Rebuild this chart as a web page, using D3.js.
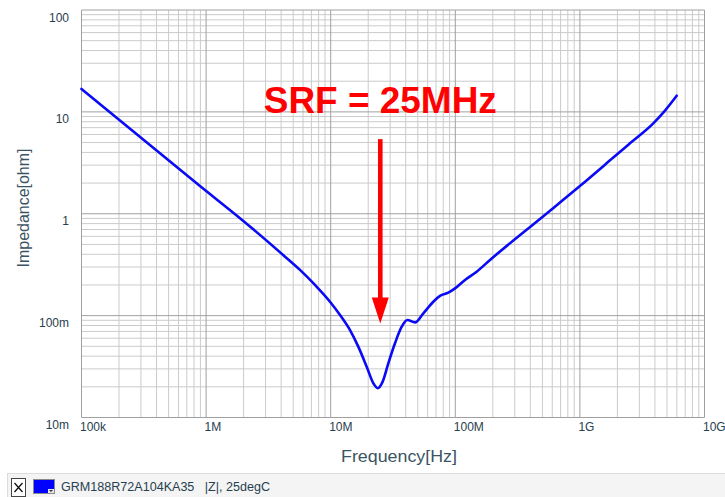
<!DOCTYPE html>
<html>
<head>
<meta charset="utf-8">
<title>Impedance</title>
<script src="https://d3js.org/d3.v7.min.js"></script>
<style>
  body { margin:0; background:#fff; }
  text { font-family:"Liberation Sans", Arial, sans-serif; white-space:pre; }
</style>
</head>
<body>
<script>
// |Z|, GRM188R72A104KA35 at 25degC
var freqHz = [1e5, 8.93e5, 1.99e6, 4.17e6, 5.67e6, 7.48e6, 9.87e6, 1.188e7, 1.429e7, 1.665e7,
              1.945e7, 2.198e7, 2.384e7, 2.613e7, 2.90e7, 3.28e7, 3.715e7, 4.12e7, 4.75e7, 5.54e7,
              6.66e7, 7.54e7, 8.79e7, 9.95e7, 1.197e8, 1.485e8, 1.9e8, 5e8, 1e9, 1.854e9,
              2.52e9, 3.88e9, 4.82e9, 5.98e9];
var impedanceOhm = [16.8, 1.87, 0.85, 0.392, 0.281, 0.200, 0.137, 0.1014, 0.0722, 0.0496,
                    0.0315, 0.0217, 0.0194, 0.0225, 0.0340, 0.0535, 0.0778, 0.0906, 0.0859, 0.1054,
                    0.137, 0.156, 0.168, 0.185, 0.224, 0.270, 0.352, 0.931, 1.87, 3.56,
                    4.91, 7.72, 10.3, 14.4];

var xTicks = [1e5, 1e6, 1e7, 1e8, 1e9, 1e10];
var xTickLabels = ["100k", "1M", "10M", "100M", "1G", "10G"];
var yTicks = [100, 10, 1, 0.1, 0.01];
var yTickLabels = ["100", "10", "1", "100m", "10m"];

var srfHz = 25e6;
var srfLabel = "SRF = 25MHz";
var legendText = "GRM188R72A104KA35\u00a0\u00a0\u00a0|Z|, 25degC";

var W = 725, H = 497;
var svg = d3.select("body").append("svg").attr("width", W).attr("height", H);
svg.append("rect").attr("width", W).attr("height", H).attr("fill", "#fff");

var x = d3.scaleLog().domain([1e5, 1e10]).range([81.5, 704.5]);
var y = d3.scaleLog().domain([0.01, 100]).range([417.5, 10]);

// grid: minor lines 2..9 of each decade, then decades
var minorX = [], minorY = [];
for (var d = 5; d < 10; d++) for (var k = 2; k < 10; k++) minorX.push(k * Math.pow(10, d));
for (var e = -2; e < 2; e++) for (var k = 2; k < 10; k++) minorY.push(k * Math.pow(10, e));

var grid = svg.append("g");
grid.selectAll(".mx").data(minorX).enter().append("line")
  .attr("x1", x).attr("x2", x).attr("y1", y(100)).attr("y2", y(0.01))
  .attr("stroke", "#cbcbcb").attr("stroke-width", 1);
grid.selectAll(".my").data(minorY).enter().append("line")
  .attr("y1", y).attr("y2", y).attr("x1", x(1e5)).attr("x2", x(1e10))
  .attr("stroke", "#cbcbcb").attr("stroke-width", 1);
grid.selectAll(".Mx").data(xTicks).enter().append("line")
  .attr("x1", x).attr("x2", x).attr("y1", y(100)).attr("y2", y(0.01))
  .attr("stroke", "#a0a0a0").attr("stroke-width", 1);
grid.selectAll(".My").data(yTicks).enter().append("line")
  .attr("y1", y).attr("y2", y).attr("x1", x(1e5)).attr("x2", x(1e10))
  .attr("stroke", "#a0a0a0").attr("stroke-width", 1);

// tick labels through d3 axes, no domain/ticks drawn
var xAxis = svg.append("g").attr("transform", "translate(0," + y(0.01) + ")")
  .call(d3.axisBottom(x).tickValues(xTicks).tickSize(0)
        .tickFormat(function(d, i) { return xTickLabels[i]; }));
xAxis.select(".domain").remove();
xAxis.selectAll("text").attr("text-anchor", "start").attr("x", -2).attr("y", 5)
  .attr("dy", "0.71em").attr("font-size", 12).attr("fill", "#27404e")
  .attr("font-family", "Liberation Sans, Arial, sans-serif");

var yAxis = svg.append("g").attr("transform", "translate(69,0)")
  .call(d3.axisLeft(y).tickValues(yTicks).tickSize(0)
        .tickFormat(function(d, i) { return yTickLabels[i]; }));
yAxis.select(".domain").remove();
yAxis.selectAll("text").attr("x", 0).attr("dy", 11).attr("font-size", 12).attr("fill", "#27404e")
  .attr("font-family", "Liberation Sans, Arial, sans-serif");

// axis titles
svg.append("text").attr("x", 399).attr("y", 462).attr("text-anchor", "middle")
  .attr("font-size", 17).attr("fill", "#3b5463")
  .attr("textLength", 116).attr("lengthAdjust", "spacingAndGlyphs")
  .text("Frequency[Hz]");
svg.append("text").attr("transform", "translate(28.5,208) rotate(-90)").attr("text-anchor", "middle")
  .attr("font-size", 17).attr("fill", "#3b5463")
  .attr("textLength", 119).attr("lengthAdjust", "spacingAndGlyphs")
  .text("Impedance[ohm]");

// curve
var pts = freqHz.map(function(f, i) { return [f, impedanceOhm[i]]; });
var line = d3.line().x(function(d) { return x(d[0]); }).y(function(d) { return y(d[1]); })
  .curve(d3.curveMonotoneX);
svg.append("path").datum(pts).attr("d", line)
  .attr("fill", "none").attr("stroke", "#0a0af5").attr("stroke-width", 2.6)
  .attr("stroke-linejoin", "round").attr("stroke-linecap", "round");

// SRF annotation
var ax = x(srfHz);
svg.append("text").attr("x", ax).attr("y", y(9.7)).attr("text-anchor", "middle")
  .attr("font-size", 36).attr("font-weight", "bold").attr("fill", "#ff0000")
  .attr("textLength", 233).attr("lengthAdjust", "spacingAndGlyphs")
  .text(srfLabel);
var tipY = y(0.0836), topY = y(5.4);
svg.append("rect").attr("x", ax - 2.3).attr("y", topY).attr("width", 4.6).attr("height", tipY - 24 - topY)
  .attr("fill", "#ff0000");
svg.append("path")
  .attr("d", "M" + (ax - 8.5) + "," + (tipY - 26) + "L" + (ax + 8.5) + "," + (tipY - 26) + "L" + ax + "," + tipY + "Z")
  .attr("fill", "#ff0000");

// legend strip
var lg = svg.append("g");
lg.append("rect").attr("x", 7).attr("y", 473).attr("width", W - 7).attr("height", 24).attr("fill", "#f4f4f4");
lg.append("line").attr("x1", 7).attr("x2", W).attr("y1", 473.5).attr("y2", 473.5).attr("stroke", "#dcdcdc");
lg.append("line").attr("x1", 7.5).attr("x2", 7.5).attr("y1", 473).attr("y2", H).attr("stroke", "#dcdcdc");
lg.append("rect").attr("x", 11.5).attr("y", 478.5).attr("width", 14).attr("height", 18)
  .attr("fill", "#fff").attr("stroke", "#444");
lg.append("path").attr("d", "M14.5,483L22.5,492M22.5,483L14.5,492").attr("stroke", "#111").attr("stroke-width", 1.3);
lg.append("rect").attr("x", 33.5).attr("y", 479.5).attr("width", 21).attr("height", 14)
  .attr("fill", "#0000ff").attr("stroke", "#8a8a8a");
lg.append("rect").attr("x", 48).attr("y", 489).attr("width", 6).attr("height", 4).attr("fill", "#e8e8e8");
lg.append("path").attr("d", "M49,490L53,490L51,492Z").attr("fill", "#333");
lg.append("text").attr("x", 61).attr("y", 491).attr("font-size", 12).attr("fill", "#27404e")
  .attr("textLength", 209).attr("lengthAdjust", "spacingAndGlyphs")
  .text(legendText);
</script>
</body>
</html>
